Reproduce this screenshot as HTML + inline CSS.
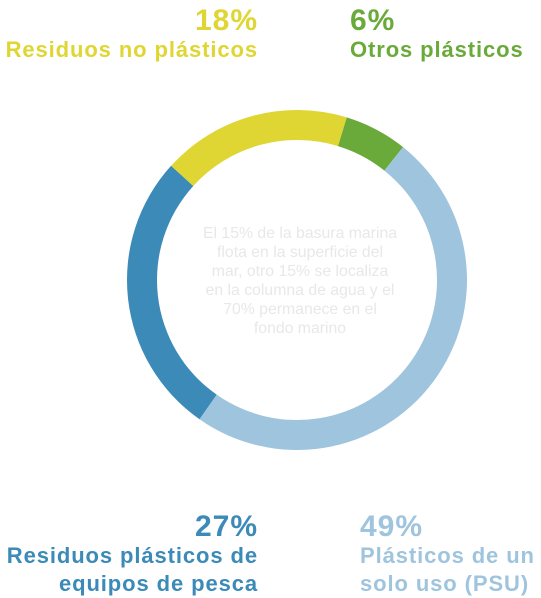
<!DOCTYPE html>
<html><head><meta charset="utf-8"><style>
body{margin:0;width:541px;height:598px;background:#fff;font-family:"Liberation Sans",Arial,sans-serif;overflow:hidden;position:relative}
.lbl{position:absolute;font-weight:bold}
.pct{font-size:30px;line-height:30px;letter-spacing:1px}
.nm{font-size:22px;line-height:28px;letter-spacing:0.9px}
.r{text-align:right}
#center{position:absolute;left:190px;top:224px;width:220px;text-align:center;font-size:15.8px;line-height:19px;color:#e8e8e8}
</style></head><body>
<svg id="chart" width="541" height="598" style="position:absolute;left:0;top:0"></svg>
<div id="center">El 15% de la basura marina<br>flota en la superficie del<br>mar, otro 15% se localiza<br>en la columna de agua y el<br>70% permanece en el<br>fondo marino</div>
<div class="lbl r" style="right:283px;top:6px;color:#dfd633"><div class="pct">18%</div><div class="nm">Residuos no plásticos</div></div>
<div class="lbl" style="left:350px;top:6px;color:#6aaa3a"><div class="pct">6%</div><div class="nm">Otros plásticos</div></div>
<div class="lbl r" style="right:283px;top:512px;color:#3c8ab8"><div class="pct">27%</div><div class="nm">Residuos plásticos de<br>equipos de pesca</div></div>
<div class="lbl" style="left:360px;top:512px;color:#9fc4dd"><div class="pct">49%</div><div class="nm">Plásticos de un<br>solo uso (PSU)</div></div>
<script>
const categories=["Otros plásticos","Plásticos de un solo uso (PSU)","Residuos plásticos de equipos de pesca","Residuos no plásticos"];
const values=[6,49,27,18];
const colors=["#6aaa3a","#9fc4dd","#3c8ab8","#dfd633"];
const cx=297,cy=280,R=170,r=140,start=17;
const svg=document.getElementById('chart');
const total=values.reduce((a,b)=>a+b,0);
function pt(a,rad){const t=(a-90)*Math.PI/180;return [cx+rad*Math.cos(t),cy+rad*Math.sin(t)];}
let a=start;
values.forEach((v,i)=>{
  const a2=a+v/total*360;
  const large=(a2-a)>180?1:0;
  const [x1,y1]=pt(a,R),[x2,y2]=pt(a2,R),[x3,y3]=pt(a2,r),[x4,y4]=pt(a,r);
  const p=document.createElementNS('http://www.w3.org/2000/svg','path');
  p.setAttribute('d',`M${x1},${y1}A${R},${R} 0 ${large} 1 ${x2},${y2}L${x3},${y3}A${r},${r} 0 ${large} 0 ${x4},${y4}Z`);
  p.setAttribute('fill',colors[i]);
  
  
  svg.appendChild(p);
  a=a2;
});
</script>
</body></html>
